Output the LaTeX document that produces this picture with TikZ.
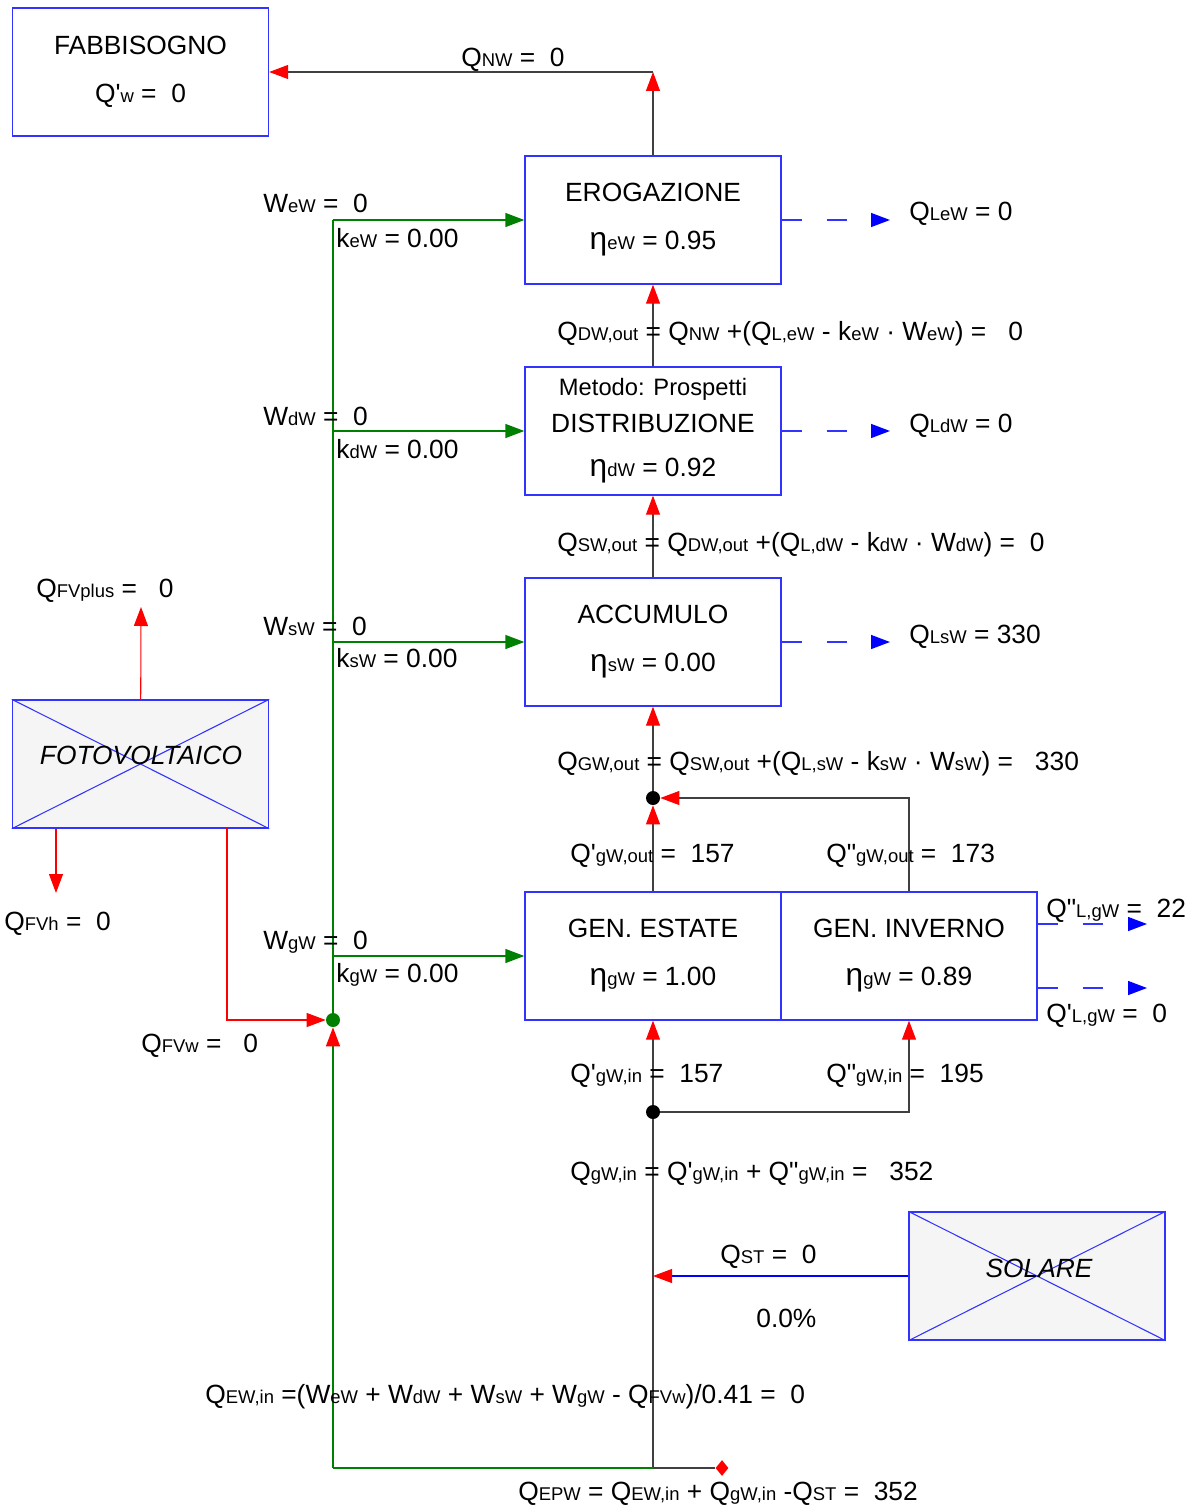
\documentclass[tikz,border=0pt]{standalone}
\usepackage{fontspec}
\setmainfont{Liberation Sans}
\usepackage{xcolor}
\usetikzlibrary{arrows.meta,shapes.geometric,calc}
\definecolor{boxblue}{HTML}{3333FF}
\definecolor{flowgreen}{HTML}{008000}
\definecolor{panelgray}{HTML}{F5F5F5}
\newcommand{\sbs}[1]{{\fontsize{10.5pt}{12pt}\selectfont #1}}
\newcommand{\eff}{{\fontsize{18pt}{18pt}\selectfont η}}
\newcommand{\pr}{\textquotesingle}
\newcommand{\ppr}{\textquotedbl}

\begin{document}
\begin{tikzpicture}[x=0.02cm,y=-0.02cm,
    every node/.style={font=\fontsize{15pt}{18pt}\selectfont},
    box/.style={draw=boxblue, line width=0.8pt, minimum width=5.12cm,
                minimum height=2.56cm, inner sep=0pt, align=center},
    panel/.style={box, fill=panelgray},
    ital/.style={font=\fontsize{15pt}{18pt}\selectfont\itshape, inner sep=0pt},
    lbl/.style={anchor=base west, inner sep=0pt},
    dot/.style={circle, fill=black, minimum size=0.28cm, inner sep=0pt},
    conn/.style={draw=black!75, line width=0.6pt},
    gline/.style={draw=flowgreen, line width=0.8pt},
    rline/.style={draw=red, line width=0.6pt},
    bline/.style={draw=blue, line width=0.6pt},
    redtip/.style={-{Triangle[length=0.38cm,width=0.28cm,color=red]}},
    greentip/.style={-{Triangle[length=0.38cm,width=0.28cm,color=flowgreen]}},
    dline/.style={draw=blue!80, line width=0.8pt, dash pattern=on 0.4cm off 0.5cm,
                  -{Triangle[length=0.38cm,width=0.28cm,color=blue]}}]
  \useasboundingbox (0,0) rectangle (1192,1507);

  \node[box] (fab) at (140.5,72) {FABBISOGNO\\[9.3pt]Q\pr\sbs{w} =\ \ 0};
  \node[box] (ero) at (653,220) {EROGAZIONE\\[9.3pt]\eff\sbs{eW} = 0.95};
  \node[box] (dist) at (653,431) {{\fontsize{13.5pt}{16pt}\selectfont Metodo: Prospetti}\\[3pt]DISTRIBUZIONE\\[7pt]\eff\sbs{dW} = 0.92};
  \node[box] (acc) at (653,642) {ACCUMULO\\[9.3pt]\eff\sbs{sW} = 0.00};
  \node[box] (genE) at (653,956) {GEN. ESTATE\\[9.3pt]\eff\sbs{gW} = 1.00};
  \node[box] (genI) at (909,956) {GEN. INVERNO\\[9.3pt]\eff\sbs{gW} = 0.89};

  \node[panel] (fv) at (140.5,764) {};
  \node[panel] (sol) at (1037,1276) {};
  \draw[boxblue, line width=0.6pt] (fv.north west) -- (fv.south east) (fv.south west) -- (fv.north east);
  \draw[boxblue, line width=0.6pt] (sol.north west) -- (sol.south east) (sol.south west) -- (sol.north east);
  \node[ital] (fvt) at (141,755) {FOTOVOLTAICO};
  \node[ital] (solt) at (1039,1268) {SOLARE};

  \node[dot] (jout) at (653,798) {};
  \node[dot] (jin) at (653,1112) {};
  \node[dot, fill=flowgreen] (pv) at (333,1020) {};
  \node[diamond, fill=red, minimum width=0.26cm, minimum height=0.32cm, inner sep=0pt] (epw) at (722,1468) {};

  \coordinate (top) at (653,72);
  \coordinate (bot) at (653,1468);
  \coordinate (gbot) at (333,1468);
  \coordinate (solin) at (653,1276);
  \coordinate (fvplus) at (141,607);
  \coordinate (fvh) at (56,893);
  \coordinate (fvw) at (227,828);
  \coordinate (leW) at (890,220);
  \coordinate (ldW) at (890,431);
  \coordinate (lsW) at (890,642);
  \coordinate (lgW2) at (1147,924);
  \coordinate (lgW1) at (1147,988);

  \draw[conn,redtip] (ero) -- (top);
  \draw[conn,redtip] (top) -- (fab);
  \draw[conn,redtip] (dist) -- (ero);
  \draw[conn,redtip] (acc) -- (dist);
  \draw[conn,redtip] (jout) -- (acc);
  \draw[conn,redtip] (genE) -- (jout);
  \draw[conn,redtip] (genI) |- (jout);
  \draw[conn,redtip] (jin) -- (genE);
  \draw[conn,redtip] (jin) -| (genI);
  \draw[conn] (bot) -- (jin);
  \draw[conn] (bot) -- (epw);

  \draw[gline] (gbot) -- (bot);
  \draw[gline,redtip] (gbot) -- (pv);
  \draw[gline] (pv) -- (pv |- ero.west);
  \draw[gline,greentip] (pv |- ero.west) -- (ero.west);
  \draw[gline,greentip] (pv |- dist.west) -- (dist.west);
  \draw[gline,greentip] (pv |- acc.west) -- (acc.west);
  \draw[gline,greentip] (pv |- genE.west) -- (genE.west);

  \draw[bline,redtip] (sol) -- (solin);
  \draw[rline,redtip] (fv) -- (fvplus);
  \draw[rline,redtip] (fv.south -| fvh) -- (fvh);
  \draw[rline,redtip] (fvw) |- (pv);

  \draw[dline] (ero.east) -- (leW);
  \draw[dline] (dist.east) -- (ldW);
  \draw[dline] (acc.east) -- (lsW);
  \draw[dline] (genI.east |- lgW2) -- (lgW2);
  \draw[dline] (genI.east |- lgW1) -- (lgW1);

  \node[lbl] (qnw) at (461,67) {Q\sbs{NW} =\ \ 0};
  \node[lbl] (wew) at (263,213) {W\sbs{eW} =\ \ 0};
  \node[lbl] (kew) at (336,247) {k\sbs{eW} = 0.00};
  \node[lbl] (wdw) at (263,425) {W\sbs{dW} =\ \ 0};
  \node[lbl] (kdw) at (336,458) {k\sbs{dW} = 0.00};
  \node[lbl] (wsw) at (263,635) {W\sbs{sW} =\ \ 0};
  \node[lbl] (ksw) at (336,667) {k\sbs{sW} = 0.00};
  \node[lbl] (wgw) at (263,949) {W\sbs{gW} =\ \ 0};
  \node[lbl] (kgw) at (336,982) {k\sbs{gW} = 0.00};

  \node[lbl] (qlew) at (909,220) {Q\sbs{LeW} = 0};
  \node[lbl] (qldw) at (909,432) {Q\sbs{LdW} = 0};
  \node[lbl] (qlsw) at (909,643) {Q\sbs{LsW} = 330};
  \node[lbl] (qlgw2) at (1046,917) {Q\ppr\sbs{L,gW} =\ \ 22};
  \node[lbl] (qlgw1) at (1046,1022) {Q\pr\sbs{L,gW} =\ \ 0};

  \node[lbl] (qdwout) at (557,340) {Q\sbs{DW,out} = Q\sbs{NW} +(Q\sbs{L,eW} - k\sbs{eW} · W\sbs{eW}) =\ \ \ 0};
  \node[lbl] (qswout) at (557,551) {Q\sbs{SW,out} = Q\sbs{DW,out} +(Q\sbs{L,dW} - k\sbs{dW} · W\sbs{dW}) =\ \ 0};
  \node[lbl] (qgwout) at (557,770) {Q\sbs{GW,out} = Q\sbs{SW,out} +(Q\sbs{L,sW} - k\sbs{sW} · W\sbs{sW}) =\ \ \ 330};
  \node[lbl] (qgout1) at (570,862) {Q\pr\sbs{gW,out} =\ \ 157};
  \node[lbl] (qgout2) at (826,862) {Q\ppr\sbs{gW,out} =\ \ 173};
  \node[lbl] (qgin1) at (570,1082) {Q\pr\sbs{gW,in} =\ \ 157};
  \node[lbl] (qgin2) at (826,1082) {Q\ppr\sbs{gW,in} =\ \ 195};
  \node[lbl] (qgwin) at (570,1180) {Q\sbs{gW,in} = Q\pr\sbs{gW,in} + Q\ppr\sbs{gW,in} =\ \ \ 352};
  \node[lbl] (qst) at (720,1263) {Q\sbs{ST} =\ \ 0};
  \node[lbl] (perc) at (756,1327) {0.0\%};
  \node[lbl] (qewin) at (205,1403) {Q\sbs{EW,in} =(W\sbs{eW} + W\sbs{dW} + W\sbs{sW} + W\sbs{gW} - Q\sbs{FVw})/0.41 =\ \ 0};
  \node[lbl] (qepw) at (518,1500) {Q\sbs{EPW} = Q\sbs{EW,in} + Q\sbs{gW,in} -Q\sbs{ST} =\ \ 352};

  \node[lbl] (qfvplus) at (36,597) {Q\sbs{FVplus} =\ \ \ 0};
  \node[lbl] (qfvh) at (4,930) {Q\sbs{FVh} =\ \ 0};
  \node[lbl] (qfvw) at (141,1052) {Q\sbs{FVw} =\ \ \ 0};
\end{tikzpicture}
\end{document}
